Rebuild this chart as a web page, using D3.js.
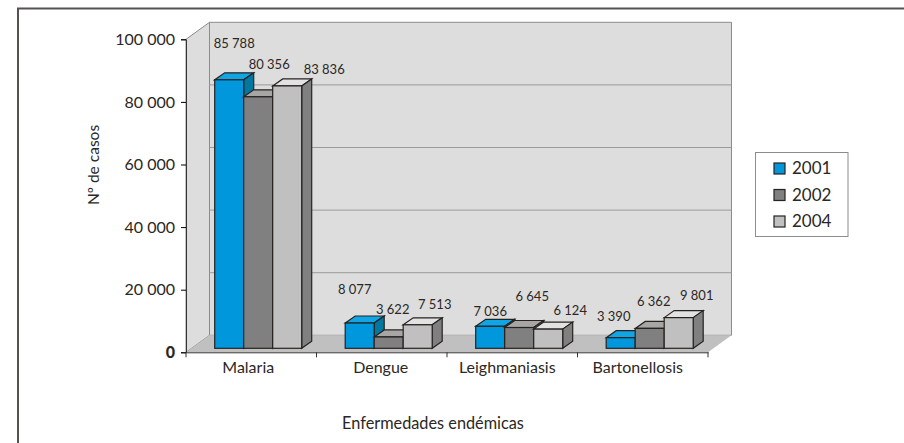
<!DOCTYPE html>
<html>
<head>
<meta charset="utf-8">
<script src="https://cdn.jsdelivr.net/npm/d3@7"></script>
<style>
  html, body { margin: 0; background: #fff; }
  svg { display: block; fill: #2b2724; }
  svg text { font-family: Lato, "Open Sans", sans-serif; }
</style>
</head>
<body>
<div id="chart"></div>
<script>
const categories = ["Malaria", "Dengue", "Leighmaniasis", "Bartonellosis"];
const years = ["2001", "2002", "2004"];
const values2001 = [85788, 8077, 7036, 3390];
const values2002 = [80356, 3622, 6645, 6362];
const values2004 = [83836, 7513, 6124, 9801];
const yTicks = [0, 20000, 40000, 60000, 80000, 100000];

// hand placed labels, same order as the values, [dx, dy] from the top of each bar
const labelOffsets = [
  [[5, -36], [11, -32], [37, -16]],
  [[-5, -34], [4, -28], [17, -20]],
  [[0, -15], [13, -31], [22, -19]],
  [[-7, -21], [4, -27], [18, -22]]
];
// category names do not sit quite at the band centre
const catShift = [-3, -1, -5, -5];

const width = 904;
const height = 443;

const colors = [
  { front: "#0097dd", top: "#10a6e6", side: "#00789f" },
  { front: "#808080", top: "#a8a6a4", side: "#6e6e6e" },
  { front: "#c0c0c0", top: "#e2e2e2", side: "#808080" }
];

const fmt = v => d3.format(",")(v).replace(/,/g, " ");

const y = d3.scaleLinear().domain([0, 100000]).range([352.3, 39.3]);
const x = d3.scaleBand().domain(categories).range([186, 708]);
const barX = d3.scaleBand().domain(d3.range(3)).range([0, 87]);

// depth of the chart box and of the bars
const wallDx = 23.5, wallDy = 17;
const barDx = 10, barDy = 7;
const barInset = 28.7, barLift = 4;

const svg = d3.select("#chart")
  .append("svg")
  .attr("width", width)
  .attr("height", height);

// page frame
svg.append("path")
  .attr("d", `M18,443V8.5H904`)
  .attr("fill", "none")
  .attr("stroke", "#57524e")
  .attr("stroke-width", 2);

const poly = pts => pts.map(p => p.join(",")).join(" ");
const [x0, x1] = x.range();
const y0 = y(0), yTop = y(100000);

// walls and floor
svg.append("polygon")
  .attr("points", poly([[x0 + wallDx, yTop - wallDy], [x1 + wallDx, yTop - wallDy], [x1 + wallDx, y0 - wallDy], [x0 + wallDx, y0 - wallDy]]))
  .attr("fill", "#dddddd").attr("stroke", "#8c8c8c").attr("stroke-width", 1);
svg.append("polygon")
  .attr("points", poly([[x0, yTop], [x0 + wallDx, yTop - wallDy], [x0 + wallDx, y0 - wallDy], [x0, y0]]))
  .attr("fill", "#dddddd").attr("stroke", "#8c8c8c").attr("stroke-width", 1);
svg.append("polygon")
  .attr("points", poly([[x0, y0], [x1, y0], [x1 + wallDx, y0 - wallDy], [x0 + wallDx, y0 - wallDy]]))
  .attr("fill", "#c0c0c0");

// grid lines on the back wall
svg.append("g")
  .selectAll("line")
  .data(yTicks.slice(1, -1))
  .join("line")
  .attr("x1", x0 + wallDx)
  .attr("x2", x1 + wallDx)
  .attr("y1", d => y(d) - wallDy)
  .attr("y2", d => y(d) - wallDy)
  .attr("stroke", "#9a9a9a")
  .attr("stroke-width", 1);

// axes
const yAxis = svg.append("g")
  .attr("transform", `translate(${x0},0)`)
  .call(d3.axisLeft(y).tickValues(yTicks).tickFormat(fmt).tickSize(5).tickPadding(6));
yAxis.selectAll("text")
  .attr("font-size", 16)
  .attr("fill", "#2b2724")
  .attr("font-weight", d => d === 0 ? 900 : 400);

const xAxis = svg.append("g")
  .attr("transform", `translate(0,${y0})`)
  .call(d3.axisBottom(x).tickValues([]).tickSize(0));
xAxis.selectAll("line.cat")
  .data([...categories.map(c => x(c)), x1])
  .join("line")
  .attr("class", "cat")
  .attr("x1", d => d).attr("x2", d => d)
  .attr("y1", 0).attr("y2", 5)
  .attr("stroke", "#333");
xAxis.selectAll("text.cat")
  .data(categories)
  .join("text")
  .attr("class", "cat")
  .attr("x", (d, i) => x(d) + x.bandwidth() / 2 + catShift[i])
  .attr("y", 21)
  .attr("text-anchor", "middle")
  .attr("font-size", 16)
  .attr("fill", "#2b2724")
  .text(d => d);
svg.selectAll(".domain").attr("stroke", "#333");

// bars
const series = [values2001, values2002, values2004];
const scaleH = v => y(0) - y(v);
const base = y0 - barLift;

categories.forEach((cat, c) => {
  const g = svg.append("g");
  series.forEach((vals, s) => {
    const left = x(cat) + barInset + barX(s);
    const right = left + barX.bandwidth();
    const top = base - scaleH(vals[c]);
    const col = colors[s];
    const stroke = "#26221f";

    g.append("polygon")
      .attr("points", poly([[left, top], [left + barDx, top - barDy], [right + barDx, top - barDy], [right, top]]))
      .attr("fill", col.top).attr("stroke", stroke).attr("stroke-width", 1.2);
    g.append("polygon")
      .attr("points", poly([[right, top], [right + barDx, top - barDy], [right + barDx, base - barDy], [right, base]]))
      .attr("fill", col.side).attr("stroke", stroke).attr("stroke-width", 1.2);
    g.append("rect")
      .attr("x", left).attr("y", top)
      .attr("width", barX.bandwidth()).attr("height", base - top)
      .attr("fill", col.front).attr("stroke", stroke).attr("stroke-width", 1.2);
  });
});

// data labels go on last so bars never cover them
categories.forEach((cat, c) => {
  series.forEach((vals, s) => {
    const [dx, dy] = labelOffsets[c][s];
    svg.append("text")
      .attr("x", x(cat) + barInset + barX(s) + barX.bandwidth() / 2 + dx)
      .attr("y", base - scaleH(vals[c]) + dy)
      .attr("dy", "0.35em")
      .attr("text-anchor", "middle")
      .attr("font-size", 13)
      .text(fmt(vals[c]));
  });
});

// axis titles
svg.append("text")
  .attr("transform", "translate(94,165) rotate(-90)")
  .attr("text-anchor", "middle")
  .attr("dy", "0.35em")
  .attr("font-size", 15.5)
  .text("Nº de casos");
svg.append("text")
  .attr("x", 433)
  .attr("y", 429)
  .attr("text-anchor", "middle")
  .attr("font-size", 16.3)
  .text("Enfermedades endémicas");

// legend
const legend = svg.append("g").attr("transform", "translate(755.5,152.5)");
legend.append("rect")
  .attr("width", 92.5).attr("height", 84)
  .attr("fill", "#fff").attr("stroke", "#8c8c8c");
const rowY = d3.scalePoint().domain(years).range([16, 69]);
years.forEach((yr, i) => {
  legend.append("rect")
    .attr("x", 18.5).attr("y", rowY(yr) - 5.5)
    .attr("width", 11).attr("height", 11)
    .attr("fill", colors[i].front)
    .attr("stroke", "#26221f").attr("stroke-width", 1.2);
  legend.append("text")
    .attr("x", 36.5).attr("y", rowY(yr))
    .attr("dy", "0.35em")
    .attr("font-size", 17)
    .text(yr);
});
</script>
</body>
</html>
